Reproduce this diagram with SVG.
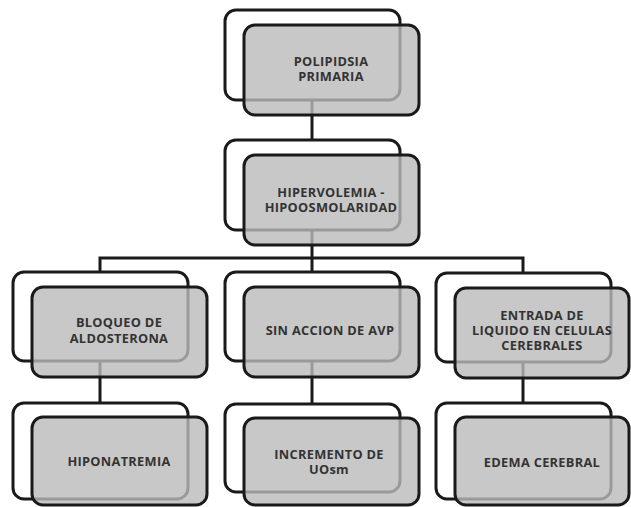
<svg xmlns="http://www.w3.org/2000/svg" width="631" height="507" viewBox="0 0 631 507">
  <style>
    .back { fill: #ffffff; stroke: #1a1a1a; stroke-width: 3; }
    .front { fill: #bababa; fill-opacity: 0.8; stroke: #1a1a1a; stroke-width: 3; }
    .lbl { font-family: "Open Sans", "Liberation Sans", sans-serif; font-weight: bold; font-size: 12.8px; letter-spacing: 0.3px; fill: #333333; text-anchor: middle; }
    .conn { fill: none; stroke: #1a1a1a; stroke-width: 3; }
  </style>
  <rect width="631" height="507" fill="#ffffff"/>

  <!-- connectors (drawn beneath the node cards) -->
  <g id="connectors" class="conn">
    <path d="M312 100 V142"/>
    <path d="M312 230 V258"/>
    <path d="M100 272 V258 H523 V274"/>
    <path d="M312 258 V273"/>
    <path d="M100 360 V404"/>
    <path d="M312 360 V404"/>
    <path d="M523 360 V404"/>
  </g>

  <g id="polipidsia">
    <rect class="back" x="225" y="10" width="175" height="90" rx="11"/>
    <rect class="front" x="244" y="25" width="175" height="90" rx="11"/>
    <text class="lbl" x="331" y="66">POLIPIDSIA</text>
    <text class="lbl" x="331" y="81">PRIMARIA</text>
  </g>

  <g id="hipervolemia">
    <rect class="back" x="225" y="140" width="175" height="90" rx="11"/>
    <rect class="front" x="244" y="155" width="175" height="90" rx="11"/>
    <text class="lbl" x="331" y="197">HIPERVOLEMIA -</text>
    <text class="lbl" x="331" y="212">HIPOOSMOLARIDAD</text>
  </g>

  <g id="bloqueo">
    <rect class="back" x="13" y="272" width="175" height="89" rx="11"/>
    <rect class="front" x="32" y="287" width="175" height="90" rx="11"/>
    <text class="lbl" x="119" y="327">BLOQUEO DE</text>
    <text class="lbl" x="119" y="343">ALDOSTERONA</text>
  </g>

  <g id="sin-accion">
    <rect class="back" x="225" y="272" width="175" height="89" rx="11"/>
    <rect class="front" x="244" y="287" width="175" height="90" rx="11"/>
    <text class="lbl" x="330" y="335">SIN ACCION DE AVP</text>
  </g>

  <g id="entrada">
    <rect class="back" x="436" y="273" width="175" height="89" rx="11"/>
    <rect class="front" x="455" y="288" width="174" height="90" rx="11"/>
    <text class="lbl" x="542" y="320">ENTRADA DE</text>
    <text class="lbl" x="542" y="335">LIQUIDO EN CELULAS</text>
    <text class="lbl" x="542" y="350">CEREBRALES</text>
  </g>

  <g id="hiponatremia">
    <rect class="back" x="13" y="403" width="175" height="96" rx="11"/>
    <rect class="front" x="32" y="417" width="175" height="88" rx="11"/>
    <text class="lbl" x="119" y="466">HIPONATREMIA</text>
  </g>

  <g id="incremento">
    <rect class="back" x="225" y="404" width="175" height="88" rx="11"/>
    <rect class="front" x="244" y="418" width="175" height="87" rx="11"/>
    <text class="lbl" x="329" y="459">INCREMENTO DE</text>
    <text class="lbl" x="329" y="474">UOsm</text>
  </g>

  <g id="edema">
    <rect class="back" x="436" y="403" width="175" height="96" rx="11"/>
    <rect class="front" x="455" y="417" width="174" height="88" rx="11"/>
    <text class="lbl" x="542" y="467">EDEMA CEREBRAL</text>
  </g>
</svg>
